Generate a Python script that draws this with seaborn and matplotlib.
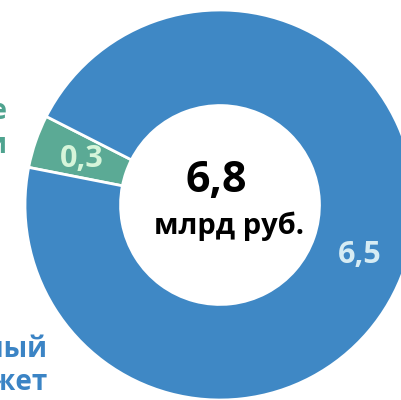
import numpy as np
import matplotlib
matplotlib.use("Agg")
import matplotlib.pyplot as plt
import seaborn as sns

# data
sources = ["Внебюджетные\nисточники", "Федеральный\nбюджет"]
values = [0.3, 6.5]
slice_colors = ["#5BAA95", "#3F88C5"]
value_colors = ["#D6F5DA", "#D6ECF4"]
total_label = "млрд руб."

sns.set_theme(style="white")
plt.rcParams["font.family"] = ["Open Sans", "DejaVu Sans"]

fig = plt.figure(figsize=(4.01, 4.00), dpi=100)
ax = fig.add_axes([0, 0, 1, 1])

# donut (pixel-like coordinates, y up)
cx, cy, R = 220, 195, 195
hole = 0.49
wedges, _ = ax.pie(values, colors=slice_colors, startangle=153, counterclock=True,
                   radius=R, center=(cx, cy),
                   wedgeprops=dict(width=R * hole, edgecolor="white", linewidth=2))

# value labels in the middle of the ring
r_mid = R * (1 - hole / 2)
for w, v, c in zip(wedges, values, value_colors):
    ang = np.deg2rad((w.theta1 + w.theta2) / 2)
    ax.text(cx + r_mid * np.cos(ang) + 1, cy + r_mid * np.sin(ang) - 2,
            f"{v:.1f}".replace(".", ","), color=c, fontsize=22, fontweight="bold",
            ha="center", va="center")

# total in the centre
total = sum(values)
ax.text(cx - 4, cy + 24, f"{total:.1f}".replace(".", ","), fontsize=31,
        fontweight="bold", ha="center", va="center", color="black")
ax.text(cx + 9, cy - 21, total_label, fontsize=21, fontweight="bold",
        ha="center", va="center", color="black")

# side labels (cut off at the left edge)
ax.text(8, 271, sources[0], color="#4FA38F", fontsize=20, fontweight="bold",
        ha="right", va="center", linespacing=1.2)
ax.text(48, 34, sources[1], color="#3B84C5", fontsize=20, fontweight="bold",
        ha="right", va="center", linespacing=1.2)

ax.set_xlim(0, 401)
ax.set_ylim(0, 400)
ax.set_aspect("equal")
ax.axis("off")

fig.savefig("out.png", dpi=100, facecolor="white")
